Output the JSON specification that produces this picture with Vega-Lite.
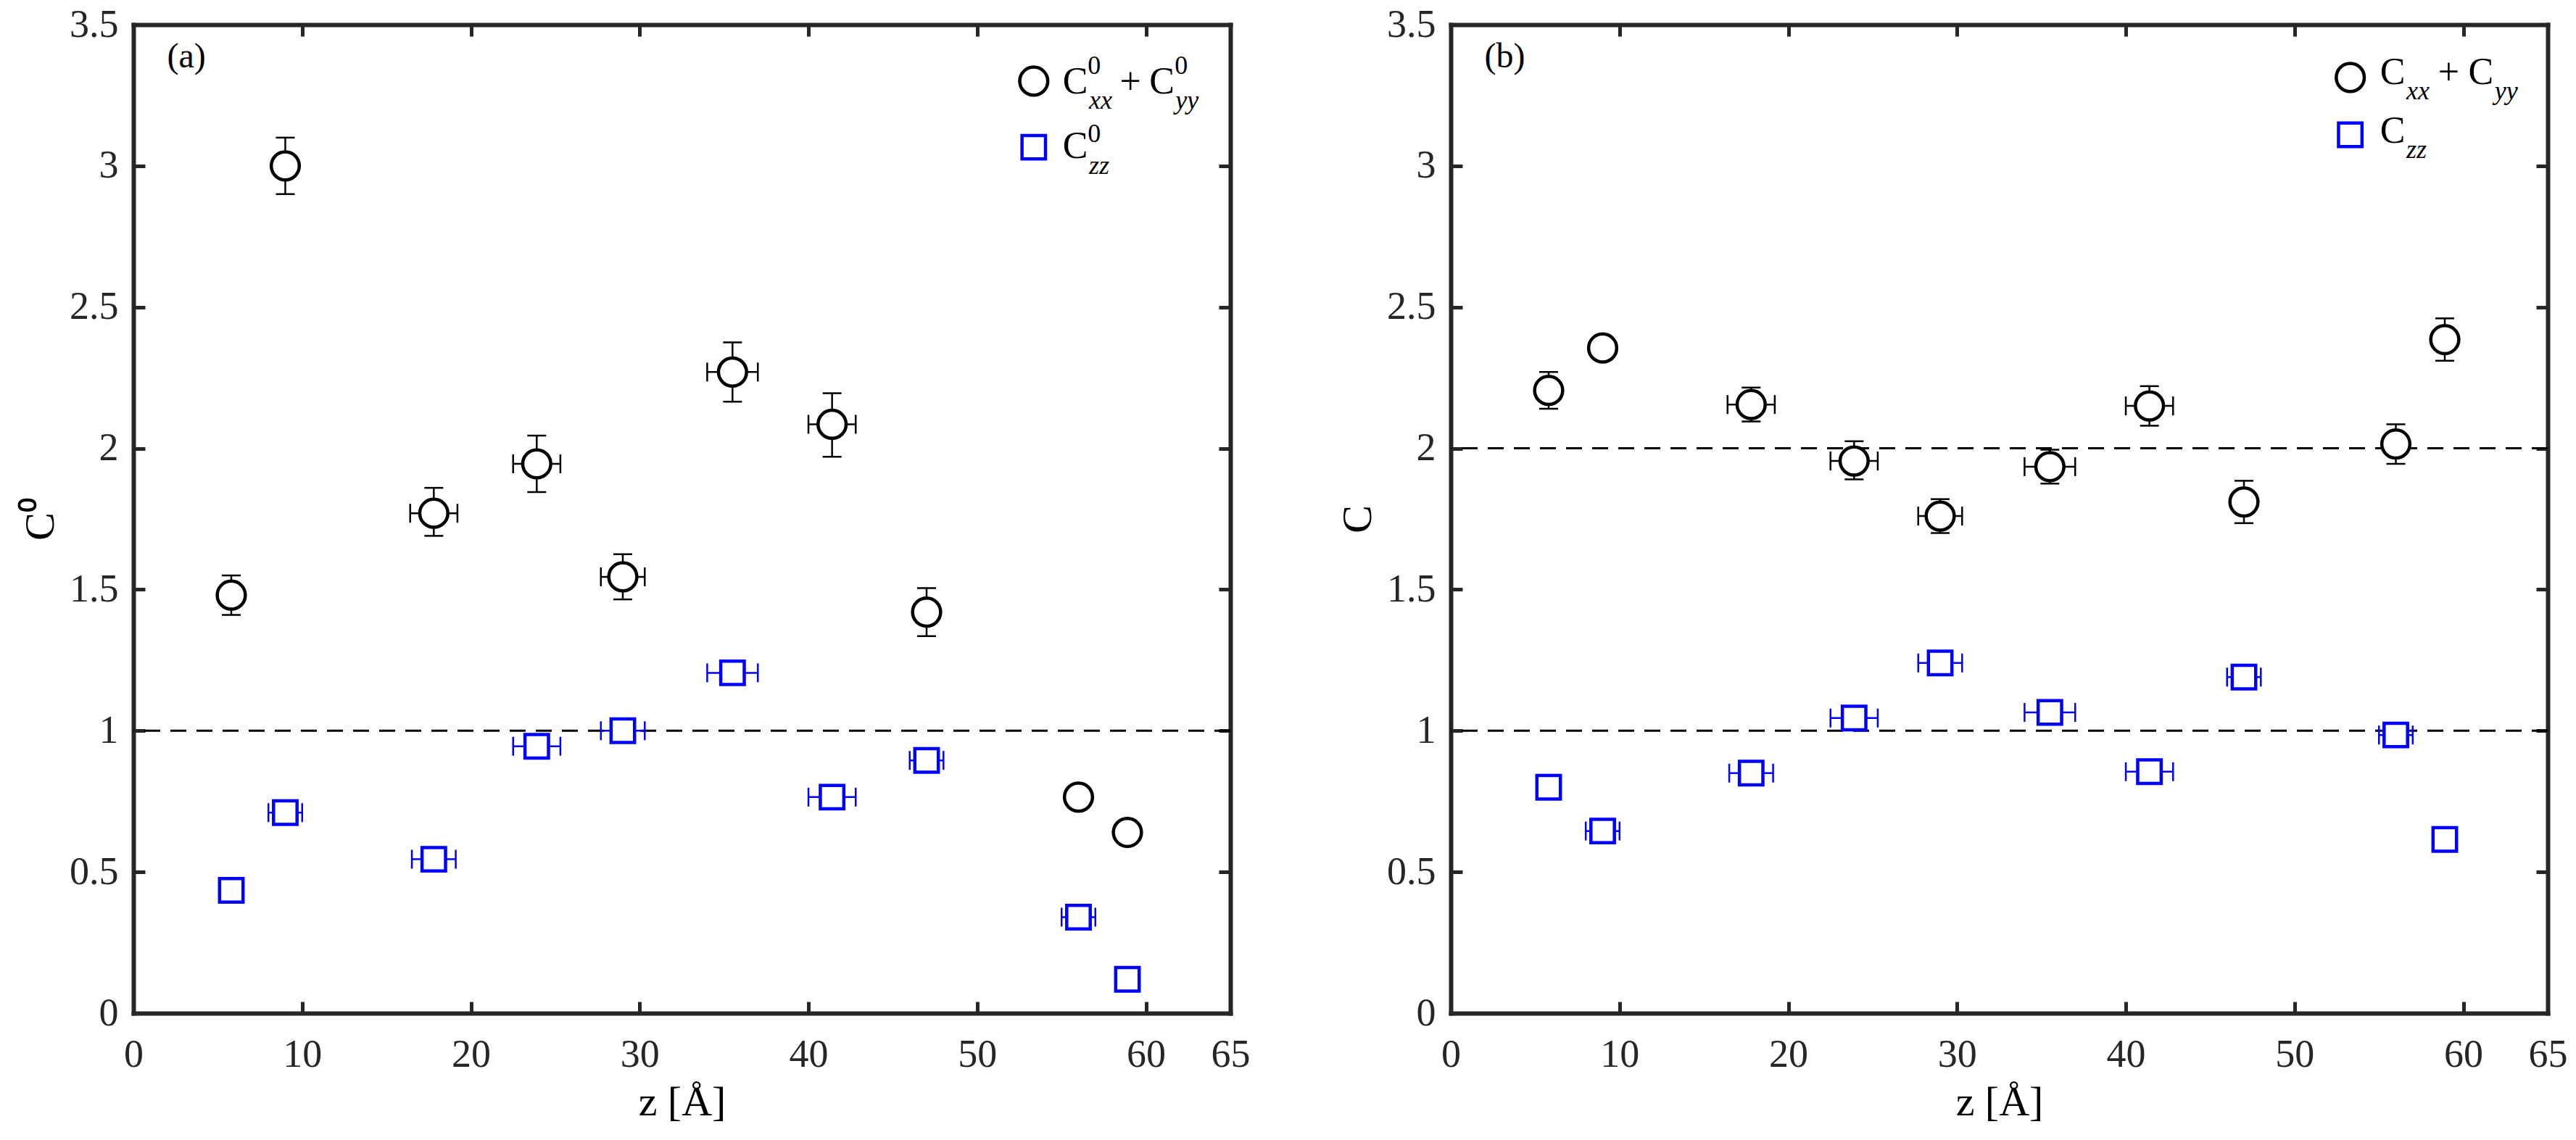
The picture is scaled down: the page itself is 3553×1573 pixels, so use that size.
{
  "$schema": "https://vega.github.io/schema/vega-lite/v6.json",
  "background": "white",
  "padding": {"left": 27, "top": 7, "right": 5, "bottom": 5},
  "bounds": "flush",
  "spacing": 304,
  "datasets": {
    "a": [
      {"s": "xy", "z": 5.8, "v": 1.48, "vlo": 1.41, "vhi": 1.55},
      {"s": "xy", "z": 9.0, "v": 3.0, "vlo": 2.9, "vhi": 3.1},
      {"s": "xy", "z": 17.8, "v": 1.77, "vlo": 1.69, "vhi": 1.86, "zlo": 16.4, "zhi": 19.2},
      {"s": "xy", "z": 23.9, "v": 1.945, "vlo": 1.845, "vhi": 2.045, "zlo": 22.5, "zhi": 25.3},
      {"s": "xy", "z": 29.0, "v": 1.545, "vlo": 1.465, "vhi": 1.625, "zlo": 27.7, "zhi": 30.3},
      {"s": "xy", "z": 35.5, "v": 2.27, "vlo": 2.165, "vhi": 2.375, "zlo": 34.0, "zhi": 37.0},
      {"s": "xy", "z": 41.4, "v": 2.085, "vlo": 1.97, "vhi": 2.195, "zlo": 40.0, "zhi": 42.8},
      {"s": "xy", "z": 47.0, "v": 1.42, "vlo": 1.335, "vhi": 1.505},
      {"s": "xy", "z": 56.0, "v": 0.765},
      {"s": "xy", "z": 58.9, "v": 0.64},
      {"s": "zz", "z": 5.8, "v": 0.435},
      {"s": "zz", "z": 9.0, "v": 0.71, "zlo": 8.0, "zhi": 10.0},
      {"s": "zz", "z": 17.8, "v": 0.545, "zlo": 16.5, "zhi": 19.1},
      {"s": "zz", "z": 23.9, "v": 0.945, "zlo": 22.5, "zhi": 25.3},
      {"s": "zz", "z": 29.0, "v": 1.0, "zlo": 27.7, "zhi": 30.3},
      {"s": "zz", "z": 35.5, "v": 1.205, "zlo": 34.0, "zhi": 37.0},
      {"s": "zz", "z": 41.4, "v": 0.765, "zlo": 40.0, "zhi": 42.8},
      {"s": "zz", "z": 47.0, "v": 0.895, "zlo": 46.0, "zhi": 48.0},
      {"s": "zz", "z": 56.0, "v": 0.34, "zlo": 55.0, "zhi": 57.0},
      {"s": "zz", "z": 58.9, "v": 0.12}
    ],
    "b": [
      {"s": "xy", "z": 5.8, "v": 2.205, "vlo": 2.14, "vhi": 2.27},
      {"s": "xy", "z": 9.0, "v": 2.355},
      {"s": "xy", "z": 17.8, "v": 2.155, "vlo": 2.095, "vhi": 2.215, "zlo": 16.4, "zhi": 19.2},
      {"s": "xy", "z": 23.9, "v": 1.955, "vlo": 1.89, "vhi": 2.025, "zlo": 22.5, "zhi": 25.3},
      {"s": "xy", "z": 29.0, "v": 1.76, "vlo": 1.7, "vhi": 1.82, "zlo": 27.7, "zhi": 30.3},
      {"s": "xy", "z": 35.5, "v": 1.935, "vlo": 1.875, "vhi": 1.995, "zlo": 34.0, "zhi": 37.0},
      {"s": "xy", "z": 41.4, "v": 2.15, "vlo": 2.08, "vhi": 2.22, "zlo": 40.0, "zhi": 42.8},
      {"s": "xy", "z": 47.0, "v": 1.81, "vlo": 1.735, "vhi": 1.885},
      {"s": "xy", "z": 56.0, "v": 2.015, "vlo": 1.945, "vhi": 2.085},
      {"s": "xy", "z": 58.9, "v": 2.385, "vlo": 2.31, "vhi": 2.46},
      {"s": "zz", "z": 5.8, "v": 0.8},
      {"s": "zz", "z": 9.0, "v": 0.645, "zlo": 8.0, "zhi": 10.0},
      {"s": "zz", "z": 17.8, "v": 0.85, "zlo": 16.5, "zhi": 19.1},
      {"s": "zz", "z": 23.9, "v": 1.045, "zlo": 22.5, "zhi": 25.3},
      {"s": "zz", "z": 29.0, "v": 1.24, "zlo": 27.7, "zhi": 30.3},
      {"s": "zz", "z": 35.5, "v": 1.065, "zlo": 34.0, "zhi": 37.0},
      {"s": "zz", "z": 41.4, "v": 0.855, "zlo": 40.0, "zhi": 42.8},
      {"s": "zz", "z": 47.0, "v": 1.19, "zlo": 46.0, "zhi": 48.0},
      {"s": "zz", "z": 56.0, "v": 0.985, "zlo": 55.0, "zhi": 57.0},
      {"s": "zz", "z": 58.9, "v": 0.615}
    ]
  },
  "hconcat": [
    {
      "width": 1513,
      "height": 1364,
      "data": {"name": "a"},
      "resolve": {"axis": {"x": "independent", "y": "independent"}},
      "layer": [
        {"data": {"values": [{}]}, "mark": {"type": "rule", "strokeDash": [22, 14], "strokeWidth": 3, "color": "black"},
         "encoding": {"y": {"datum": 1, "scale": {"domain": [0, 3.5], "nice": false, "zero": false}, "axis": null}}},
        {"transform": [{"filter": "isValid(datum.vlo)"}], "mark": {"type": "rule", "strokeWidth": 2.5},
         "encoding": {
           "x": {"field": "z", "type": "quantitative", "scale": {"domain": [0, 65], "nice": false, "zero": false}, "axis": {"orient": "top", "labels": false, "title": null, "values": [0, 10, 20, 30, 40, 50, 60, 65]}},
           "y": {"field": "vlo", "type": "quantitative", "scale": {"domain": [0, 3.5], "nice": false, "zero": false}, "axis": {"orient": "right", "labels": false, "title": null, "values": [0, 0.5, 1, 1.5, 2, 2.5, 3, 3.5]}},
           "y2": {"field": "vhi"},
           "color": {"field": "s", "type": "nominal", "scale": {"domain": ["xy", "zz"], "range": ["#000000", "#0000ff"]}, "legend": null}}},
        {"transform": [{"filter": "isValid(datum.zlo)"}], "mark": {"type": "rule", "strokeWidth": 2.5},
         "encoding": {
           "x": {"field": "zlo", "type": "quantitative", "scale": {"domain": [0, 65], "nice": false, "zero": false}, "axis": null},
           "x2": {"field": "zhi"},
           "y": {"field": "v", "type": "quantitative", "scale": {"domain": [0, 3.5], "nice": false, "zero": false}, "axis": null},
           "color": {"field": "s", "type": "nominal", "scale": {"domain": ["xy", "zz"], "range": ["#000000", "#0000ff"]}, "legend": null}}},
        {"transform": [{"filter": "isValid(datum.vlo)"}], "mark": {"type": "tick", "orient": "horizontal", "size": 26, "thickness": 2.5, "opacity": 1},
         "encoding": {
           "x": {"field": "z", "type": "quantitative", "axis": null},
           "y": {"field": "vlo", "type": "quantitative", "axis": null},
           "color": {"field": "s", "type": "nominal", "scale": {"domain": ["xy", "zz"], "range": ["#000000", "#0000ff"]}, "legend": null}}},
        {"transform": [{"filter": "isValid(datum.vhi)"}], "mark": {"type": "tick", "orient": "horizontal", "size": 26, "thickness": 2.5, "opacity": 1},
         "encoding": {
           "x": {"field": "z", "type": "quantitative", "axis": null},
           "y": {"field": "vhi", "type": "quantitative", "axis": null},
           "color": {"field": "s", "type": "nominal", "scale": {"domain": ["xy", "zz"], "range": ["#000000", "#0000ff"]}, "legend": null}}},
        {"transform": [{"filter": "isValid(datum.zlo)"}], "mark": {"type": "tick", "orient": "vertical", "size": 26, "thickness": 2.5, "opacity": 1},
         "encoding": {
           "x": {"field": "zlo", "type": "quantitative", "axis": null},
           "y": {"field": "v", "type": "quantitative", "axis": null},
           "color": {"field": "s", "type": "nominal", "scale": {"domain": ["xy", "zz"], "range": ["#000000", "#0000ff"]}, "legend": null}}},
        {"transform": [{"filter": "isValid(datum.zhi)"}], "mark": {"type": "tick", "orient": "vertical", "size": 26, "thickness": 2.5, "opacity": 1},
         "encoding": {
           "x": {"field": "zhi", "type": "quantitative", "axis": null},
           "y": {"field": "v", "type": "quantitative", "axis": null},
           "color": {"field": "s", "type": "nominal", "scale": {"domain": ["xy", "zz"], "range": ["#000000", "#0000ff"]}, "legend": null}}},
        {"transform": [{"filter": "datum.s == 'xy'"}], "mark": {"type": "point", "shape": "circle", "filled": true, "fill": "white", "stroke": "black", "strokeWidth": 4.5, "size": 1500, "opacity": 1},
         "encoding": {
           "x": {"field": "z", "type": "quantitative", "scale": {"domain": [0, 65], "nice": false, "zero": false}, "axis": {"orient": "bottom", "title": "z [Å]", "values": [0, 10, 20, 30, 40, 50, 60, 65], "format": "d", "labelPadding": 46, "titlePadding": 10}},
           "y": {"field": "v", "type": "quantitative", "scale": {"domain": [0, 3.5], "nice": false, "zero": false}, "axis": {"orient": "left", "title": "C⁰", "values": [0, 0.5, 1, 1.5, 2, 2.5, 3, 3.5], "format": "~g", "labelPadding": 37, "titlePadding": 10}}}},
        {"transform": [{"filter": "datum.s == 'zz'"}], "mark": {"type": "point", "shape": "square", "filled": true, "fill": "white", "stroke": "#0000ff", "strokeWidth": 4.5, "size": 1050, "opacity": 1},
         "encoding": {
           "x": {"field": "z", "type": "quantitative", "axis": null},
           "y": {"field": "v", "type": "quantitative", "axis": null}}},
        {"data": {"values": [{}]}, "mark": {"type": "text", "text": "(a)", "fontSize": 48, "align": "left", "baseline": "middle", "color": "black"},
         "encoding": {"x": {"datum": 2.0, "axis": null}, "y": {"datum": 3.385, "axis": null}}},
        {"data": {"values": [{}]}, "mark": {"type": "point", "shape": "circle", "filled": true, "fill": "white", "stroke": "black", "strokeWidth": 4.5, "size": 1500, "opacity": 1},
         "encoding": {"x": {"datum": 53.35, "axis": null}, "y": {"datum": 3.3, "axis": null}}},
        {"data": {"values": [{}]}, "mark": {"type": "point", "shape": "square", "filled": true, "fill": "white", "stroke": "#0000ff", "strokeWidth": 4.5, "size": 1050, "opacity": 1},
         "encoding": {"x": {"datum": 53.35, "axis": null}, "y": {"datum": 3.066, "axis": null}}},
        {"data": {"values": [{}]}, "mark": {"type": "text", "text": "C", "fontSize": 52, "align": "left", "baseline": "alphabetic", "color": "black"},
         "encoding": {"x": {"datum": 55.07, "axis": null}, "y": {"datum": 3.256, "axis": null}}},
        {"data": {"values": [{}]}, "mark": {"type": "text", "text": "0", "fontSize": 36, "align": "left", "baseline": "alphabetic", "color": "black"},
         "encoding": {"x": {"datum": 56.55, "axis": null}, "y": {"datum": 3.325, "axis": null}}},
        {"data": {"values": [{}]}, "mark": {"type": "text", "text": "xx", "fontSize": 36, "fontStyle": "italic", "align": "left", "baseline": "alphabetic", "color": "black"},
         "encoding": {"x": {"datum": 56.62, "axis": null}, "y": {"datum": 3.202, "axis": null}}},
        {"data": {"values": [{}]}, "mark": {"type": "text", "text": "+", "fontSize": 52, "align": "left", "baseline": "alphabetic", "color": "black"},
         "encoding": {"x": {"datum": 58.45, "axis": null}, "y": {"datum": 3.256, "axis": null}}},
        {"data": {"values": [{}]}, "mark": {"type": "text", "text": "C", "fontSize": 52, "align": "left", "baseline": "alphabetic", "color": "black"},
         "encoding": {"x": {"datum": 60.2, "axis": null}, "y": {"datum": 3.256, "axis": null}}},
        {"data": {"values": [{}]}, "mark": {"type": "text", "text": "0", "fontSize": 36, "align": "left", "baseline": "alphabetic", "color": "black"},
         "encoding": {"x": {"datum": 61.7, "axis": null}, "y": {"datum": 3.325, "axis": null}}},
        {"data": {"values": [{}]}, "mark": {"type": "text", "text": "yy", "fontSize": 36, "fontStyle": "italic", "align": "left", "baseline": "alphabetic", "color": "black"},
         "encoding": {"x": {"datum": 61.75, "axis": null}, "y": {"datum": 3.202, "axis": null}}},
        {"data": {"values": [{}]}, "mark": {"type": "text", "text": "C", "fontSize": 52, "align": "left", "baseline": "alphabetic", "color": "black"},
         "encoding": {"x": {"datum": 55.07, "axis": null}, "y": {"datum": 3.028, "axis": null}}},
        {"data": {"values": [{}]}, "mark": {"type": "text", "text": "0", "fontSize": 36, "align": "left", "baseline": "alphabetic", "color": "black"},
         "encoding": {"x": {"datum": 56.55, "axis": null}, "y": {"datum": 3.084, "axis": null}}},
        {"data": {"values": [{}]}, "mark": {"type": "text", "text": "zz", "fontSize": 36, "fontStyle": "italic", "align": "left", "baseline": "alphabetic", "color": "black"},
         "encoding": {"x": {"datum": 56.62, "axis": null}, "y": {"datum": 2.971, "axis": null}}}
      ]
    },
    {
      "width": 1513,
      "height": 1364,
      "data": {"name": "b"},
      "resolve": {"axis": {"x": "independent", "y": "independent"}},
      "layer": [
        {"data": {"values": [{}]}, "mark": {"type": "rule", "strokeDash": [22, 14], "strokeWidth": 3, "color": "black"},
         "encoding": {"y": {"datum": 1, "scale": {"domain": [0, 3.5], "nice": false, "zero": false}, "axis": null}}},
        {"data": {"values": [{}]}, "mark": {"type": "rule", "strokeDash": [22, 14], "strokeWidth": 3, "color": "black"},
         "encoding": {"y": {"datum": 2, "axis": null}}},
        {"transform": [{"filter": "isValid(datum.vlo)"}], "mark": {"type": "rule", "strokeWidth": 2.5},
         "encoding": {
           "x": {"field": "z", "type": "quantitative", "scale": {"domain": [0, 65], "nice": false, "zero": false}, "axis": {"orient": "top", "labels": false, "title": null, "values": [0, 10, 20, 30, 40, 50, 60, 65]}},
           "y": {"field": "vlo", "type": "quantitative", "scale": {"domain": [0, 3.5], "nice": false, "zero": false}, "axis": {"orient": "right", "labels": false, "title": null, "values": [0, 0.5, 1, 1.5, 2, 2.5, 3, 3.5]}},
           "y2": {"field": "vhi"},
           "color": {"field": "s", "type": "nominal", "scale": {"domain": ["xy", "zz"], "range": ["#000000", "#0000ff"]}, "legend": null}}},
        {"transform": [{"filter": "isValid(datum.zlo)"}], "mark": {"type": "rule", "strokeWidth": 2.5},
         "encoding": {
           "x": {"field": "zlo", "type": "quantitative", "scale": {"domain": [0, 65], "nice": false, "zero": false}, "axis": null},
           "x2": {"field": "zhi"},
           "y": {"field": "v", "type": "quantitative", "scale": {"domain": [0, 3.5], "nice": false, "zero": false}, "axis": null},
           "color": {"field": "s", "type": "nominal", "scale": {"domain": ["xy", "zz"], "range": ["#000000", "#0000ff"]}, "legend": null}}},
        {"transform": [{"filter": "isValid(datum.vlo)"}], "mark": {"type": "tick", "orient": "horizontal", "size": 26, "thickness": 2.5, "opacity": 1},
         "encoding": {
           "x": {"field": "z", "type": "quantitative", "axis": null},
           "y": {"field": "vlo", "type": "quantitative", "axis": null},
           "color": {"field": "s", "type": "nominal", "scale": {"domain": ["xy", "zz"], "range": ["#000000", "#0000ff"]}, "legend": null}}},
        {"transform": [{"filter": "isValid(datum.vhi)"}], "mark": {"type": "tick", "orient": "horizontal", "size": 26, "thickness": 2.5, "opacity": 1},
         "encoding": {
           "x": {"field": "z", "type": "quantitative", "axis": null},
           "y": {"field": "vhi", "type": "quantitative", "axis": null},
           "color": {"field": "s", "type": "nominal", "scale": {"domain": ["xy", "zz"], "range": ["#000000", "#0000ff"]}, "legend": null}}},
        {"transform": [{"filter": "isValid(datum.zlo)"}], "mark": {"type": "tick", "orient": "vertical", "size": 26, "thickness": 2.5, "opacity": 1},
         "encoding": {
           "x": {"field": "zlo", "type": "quantitative", "axis": null},
           "y": {"field": "v", "type": "quantitative", "axis": null},
           "color": {"field": "s", "type": "nominal", "scale": {"domain": ["xy", "zz"], "range": ["#000000", "#0000ff"]}, "legend": null}}},
        {"transform": [{"filter": "isValid(datum.zhi)"}], "mark": {"type": "tick", "orient": "vertical", "size": 26, "thickness": 2.5, "opacity": 1},
         "encoding": {
           "x": {"field": "zhi", "type": "quantitative", "axis": null},
           "y": {"field": "v", "type": "quantitative", "axis": null},
           "color": {"field": "s", "type": "nominal", "scale": {"domain": ["xy", "zz"], "range": ["#000000", "#0000ff"]}, "legend": null}}},
        {"transform": [{"filter": "datum.s == 'xy'"}], "mark": {"type": "point", "shape": "circle", "filled": true, "fill": "white", "stroke": "black", "strokeWidth": 4.5, "size": 1500, "opacity": 1},
         "encoding": {
           "x": {"field": "z", "type": "quantitative", "scale": {"domain": [0, 65], "nice": false, "zero": false}, "axis": {"orient": "bottom", "title": "z [Å]", "values": [0, 10, 20, 30, 40, 50, 60, 65], "format": "d", "labelPadding": 46, "titlePadding": 10}},
           "y": {"field": "v", "type": "quantitative", "scale": {"domain": [0, 3.5], "nice": false, "zero": false}, "axis": {"orient": "left", "title": "C", "values": [0, 0.5, 1, 1.5, 2, 2.5, 3, 3.5], "format": "~g", "labelPadding": 37, "titlePadding": 10}}}},
        {"transform": [{"filter": "datum.s == 'zz'"}], "mark": {"type": "point", "shape": "square", "filled": true, "fill": "white", "stroke": "#0000ff", "strokeWidth": 4.5, "size": 1050, "opacity": 1},
         "encoding": {
           "x": {"field": "z", "type": "quantitative", "axis": null},
           "y": {"field": "v", "type": "quantitative", "axis": null}}},
        {"data": {"values": [{}]}, "mark": {"type": "text", "text": "(b)", "fontSize": 48, "align": "left", "baseline": "middle", "color": "black"},
         "encoding": {"x": {"datum": 2.0, "axis": null}, "y": {"datum": 3.385, "axis": null}}},
        {"data": {"values": [{}]}, "mark": {"type": "point", "shape": "circle", "filled": true, "fill": "white", "stroke": "black", "strokeWidth": 4.5, "size": 1500, "opacity": 1},
         "encoding": {"x": {"datum": 53.3, "axis": null}, "y": {"datum": 3.313, "axis": null}}},
        {"data": {"values": [{}]}, "mark": {"type": "point", "shape": "square", "filled": true, "fill": "white", "stroke": "#0000ff", "strokeWidth": 4.5, "size": 1050, "opacity": 1},
         "encoding": {"x": {"datum": 53.3, "axis": null}, "y": {"datum": 3.11, "axis": null}}},
        {"data": {"values": [{}]}, "mark": {"type": "text", "text": "C", "fontSize": 52, "align": "left", "baseline": "alphabetic", "color": "black"},
         "encoding": {"x": {"datum": 55.07, "axis": null}, "y": {"datum": 3.29, "axis": null}}},
        {"data": {"values": [{}]}, "mark": {"type": "text", "text": "xx", "fontSize": 36, "fontStyle": "italic", "align": "left", "baseline": "alphabetic", "color": "black"},
         "encoding": {"x": {"datum": 56.62, "axis": null}, "y": {"datum": 3.236, "axis": null}}},
        {"data": {"values": [{}]}, "mark": {"type": "text", "text": "+", "fontSize": 52, "align": "left", "baseline": "alphabetic", "color": "black"},
         "encoding": {"x": {"datum": 58.5, "axis": null}, "y": {"datum": 3.29, "axis": null}}},
        {"data": {"values": [{}]}, "mark": {"type": "text", "text": "C", "fontSize": 52, "align": "left", "baseline": "alphabetic", "color": "black"},
         "encoding": {"x": {"datum": 60.3, "axis": null}, "y": {"datum": 3.29, "axis": null}}},
        {"data": {"values": [{}]}, "mark": {"type": "text", "text": "yy", "fontSize": 36, "fontStyle": "italic", "align": "left", "baseline": "alphabetic", "color": "black"},
         "encoding": {"x": {"datum": 61.85, "axis": null}, "y": {"datum": 3.236, "axis": null}}},
        {"data": {"values": [{}]}, "mark": {"type": "text", "text": "C", "fontSize": 52, "align": "left", "baseline": "alphabetic", "color": "black"},
         "encoding": {"x": {"datum": 55.07, "axis": null}, "y": {"datum": 3.082, "axis": null}}},
        {"data": {"values": [{}]}, "mark": {"type": "text", "text": "zz", "fontSize": 36, "fontStyle": "italic", "align": "left", "baseline": "alphabetic", "color": "black"},
         "encoding": {"x": {"datum": 56.62, "axis": null}, "y": {"datum": 3.028, "axis": null}}}
      ]
    }
  ],
  "config": {
    "view": {"stroke": null},
    "font": "Liberation Serif",
    "axis": {
      "domainColor": "#262626",
      "domainWidth": 6,
      "domainCap": "square",
      "tickColor": "#262626",
      "tickWidth": 5,
      "tickSize": -16,
      "grid": false,
      "labelFont": "Liberation Serif",
      "labelFontSize": 54,
      "labelColor": "#262626",
      "titleFont": "Liberation Serif",
      "titleFontSize": 58,
      "titleFontWeight": "normal",
      "titleColor": "#000000",
      "labelFlush": false,
      "labelOverlap": false
    }
  }
}
